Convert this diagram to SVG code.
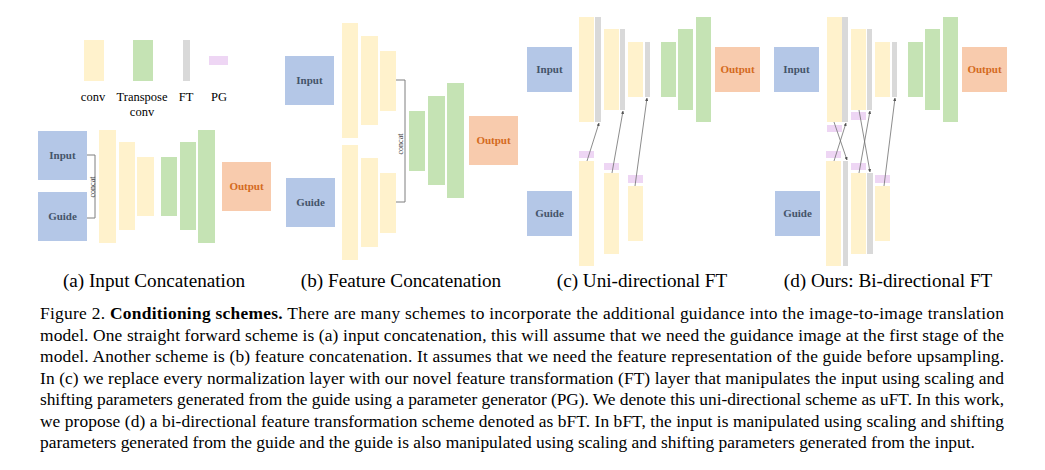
<svg xmlns="http://www.w3.org/2000/svg" width="1045" height="470" viewBox="0 0 1045 470">
<defs>
<style>
.cv{fill:#FFF2CC}
.tc{fill:#C5E3B4}
.ft{fill:#D9D9D9}
.pg{fill:#EED6F4}
.in{fill:#B4C7E7}
.out{fill:#F8CBAD}
.lbl{font-family:"Liberation Serif","Times New Roman",serif;font-size:11px;font-weight:bold;fill:#44546A;text-anchor:middle}
.olbl{font-family:"Liberation Serif","Times New Roman",serif;font-size:11px;font-weight:bold;fill:#D46A1E;text-anchor:middle}
.leg{font-family:"Liberation Serif","Times New Roman",serif;font-size:12.5px;fill:#000;text-anchor:middle}
.cc{font-family:"Liberation Serif","Times New Roman",serif;font-size:8px;fill:#404040;text-anchor:middle}
.sub{font-family:"Liberation Serif","Times New Roman",serif;font-size:19.2px;fill:#000;text-anchor:middle}
.cap{font-family:"Liberation Serif","Times New Roman",serif;font-size:17.4px;fill:#000}
.br{fill:none;stroke:#7F7F7F;stroke-width:1}
.ar{fill:none;stroke:#6E6E6E;stroke-width:0.8;marker-end:url(#ah)}
</style>
<marker id="ah" viewBox="0 0 6 6" refX="5.5" refY="3" markerWidth="4" markerHeight="4" orient="auto" markerUnits="strokeWidth">
<path d="M0,0 L6,3 L0,6 z" fill="#505050"/>
</marker>
</defs>
<rect width="1045" height="470" fill="#fff"/>

<!-- Legend -->
<g id="legend">
<rect class="cv" x="84" y="40" width="20" height="41"/>
<rect class="tc" x="133" y="40" width="20" height="41"/>
<rect class="ft" x="183" y="40" width="7" height="41"/>
<rect class="pg" x="209" y="56" width="19" height="9"/>
<text class="leg" x="93" y="101">conv</text>
<text class="leg" x="142" y="101">Transpose</text>
<text class="leg" x="142" y="116">conv</text>
<text class="leg" x="186" y="101">FT</text>
<text class="leg" x="219" y="101">PG</text>
</g>

<!-- (a) Input Concatenation -->
<g id="a-input"><rect class="in" x="38" y="131" width="49" height="49"/><text class="lbl" x="62.5" y="159">Input</text></g>
<g id="a-guide"><rect class="in" x="38" y="192" width="49" height="49"/><text class="lbl" x="62.5" y="220">Guide</text></g>
<g id="a-enc1"><rect class="cv" x="99" y="130" width="17" height="113"/></g>
<g id="a-enc2"><rect class="cv" x="119" y="142" width="16" height="88"/></g>
<g id="a-enc3"><rect class="cv" x="137" y="157" width="17" height="59"/></g>
<g id="a-dec1"><rect class="tc" x="161" y="157" width="16" height="59"/></g>
<g id="a-dec2"><rect class="tc" x="180" y="142" width="16" height="88"/></g>
<g id="a-dec3"><rect class="tc" x="198" y="130" width="17" height="113"/></g>
<g id="a-output"><rect class="out" x="222" y="162" width="49" height="49"/><text class="olbl" x="246.5" y="190">Output</text></g>

<!-- (b) Feature Concatenation -->
<g id="b-input"><rect class="in" x="285" y="56" width="49" height="49"/><text class="lbl" x="309.5" y="84">Input</text></g>
<g id="b-guide"><rect class="in" x="286" y="178" width="49" height="49"/><text class="lbl" x="310.5" y="206">Guide</text></g>
<g id="b-enc1t"><rect class="cv" x="342" y="23" width="16" height="115"/></g>
<g id="b-enc2t"><rect class="cv" x="361" y="36" width="17" height="89"/></g>
<g id="b-enc3t"><rect class="cv" x="380" y="51" width="16" height="60"/></g>
<g id="b-enc1b"><rect class="cv" x="342" y="145" width="16" height="115"/></g>
<g id="b-enc2b"><rect class="cv" x="361" y="158" width="17" height="89"/></g>
<g id="b-enc3b"><rect class="cv" x="380" y="173" width="16" height="60"/></g>
<g id="b-dec1"><rect class="tc" x="409" y="111" width="16" height="60"/></g>
<g id="b-dec2"><rect class="tc" x="428" y="96" width="17" height="89"/></g>
<g id="b-dec3"><rect class="tc" x="447" y="83" width="17" height="115"/></g>
<g id="b-output"><rect class="out" x="469" y="116" width="49" height="49"/><text class="olbl" x="493.5" y="144">Output</text></g>

<!-- (c) Uni-directional FT -->
<g id="c-input"><rect class="in" x="527" y="47" width="45" height="45"/><text class="lbl" x="549.5" y="73">Input</text></g>
<g id="c-guide"><rect class="in" x="527" y="191" width="45" height="45"/><text class="lbl" x="549.5" y="217">Guide</text></g>
<g id="c-enc1t"><rect class="cv" x="579" y="17" width="15" height="105"/><rect class="ft" x="595" y="17" width="6" height="105"/></g>
<g id="c-enc2t"><rect class="cv" x="604" y="29" width="15" height="81"/><rect class="ft" x="620" y="29" width="5" height="81"/></g>
<g id="c-enc3t"><rect class="cv" x="628" y="42" width="15" height="55"/><rect class="ft" x="645" y="42" width="5" height="55"/></g>
<g id="c-dec1"><rect class="tc" x="661" y="42" width="15" height="55"/></g>
<g id="c-dec2"><rect class="tc" x="678" y="29" width="15" height="81"/></g>
<g id="c-dec3"><rect class="tc" x="696" y="17" width="15" height="105"/></g>
<g id="c-output"><rect class="out" x="715" y="47" width="45" height="45"/><text class="olbl" x="737.5" y="73">Output</text></g>
<g id="c-enc1b"><rect class="pg" x="579" y="151" width="15" height="7"/><rect class="cv" x="579" y="161" width="15" height="105"/></g>
<g id="c-enc2b"><rect class="pg" x="604" y="163" width="15" height="7"/><rect class="cv" x="604" y="173" width="15" height="81"/></g>
<g id="c-enc3b"><rect class="pg" x="628" y="175" width="15" height="8"/><rect class="cv" x="628" y="186" width="15" height="55"/></g>

<!-- (d) Bi-directional FT -->
<g id="d-input"><rect class="in" x="774" y="47" width="45" height="45"/><text class="lbl" x="796.5" y="73">Input</text></g>
<g id="d-guide"><rect class="in" x="775" y="191" width="45" height="45"/><text class="lbl" x="797.5" y="217">Guide</text></g>
<g id="d-enc1t"><rect class="cv" x="827" y="17" width="15" height="105"/><rect class="ft" x="842" y="17" width="6" height="105"/><rect class="pg" x="827" y="125" width="15" height="7"/></g>
<g id="d-enc2t"><rect class="cv" x="851" y="29" width="15" height="81"/><rect class="ft" x="867" y="29" width="5" height="81"/><rect class="pg" x="851" y="112" width="15" height="8"/></g>
<g id="d-enc3t"><rect class="cv" x="875" y="42" width="15" height="55"/><rect class="ft" x="892" y="42" width="5" height="55"/></g>
<g id="d-dec1"><rect class="tc" x="908" y="42" width="15" height="55"/></g>
<g id="d-dec2"><rect class="tc" x="925" y="29" width="15" height="81"/></g>
<g id="d-dec3"><rect class="tc" x="943" y="17" width="15" height="105"/></g>
<g id="d-output"><rect class="out" x="962" y="47" width="45" height="45"/><text class="olbl" x="984.5" y="73">Output</text></g>
<g id="d-enc1b"><rect class="pg" x="826" y="151" width="15" height="7"/><rect class="cv" x="826" y="161" width="15" height="105"/><rect class="ft" x="843" y="161" width="5" height="105"/></g>
<g id="d-enc2b"><rect class="pg" x="851" y="163" width="15" height="7"/><rect class="cv" x="851" y="173" width="15" height="81"/><rect class="ft" x="867" y="173" width="6" height="81"/></g>
<g id="d-enc3b"><rect class="pg" x="875" y="175" width="15" height="8"/><rect class="cv" x="875" y="186" width="15" height="55"/></g>

<!-- Connectors -->
<g id="connectors">
<path class="br" d="M87,155 H95 V218 H87"/>
<text class="cc" transform="translate(92.5,187) rotate(-90)" y="2.5">concat</text>
<path class="br" d="M396,80 H405 V202 H396"/>
<text class="cc" transform="translate(400,144) rotate(-90)" y="2.5">concat</text>
<line class="ar" x1="587" y1="161" x2="599" y2="123"/>
<line class="ar" x1="612" y1="173" x2="623" y2="111"/>
<line class="ar" x1="635" y1="186" x2="647" y2="98"/>
<line class="ar" x1="834" y1="161" x2="846" y2="123"/>
<line class="ar" x1="859" y1="173" x2="870" y2="111"/>
<line class="ar" x1="884" y1="186" x2="895" y2="98"/>
<line class="ar" x1="834" y1="122" x2="847" y2="160"/>
<line class="ar" x1="859" y1="110" x2="870" y2="172"/>
</g>

<!-- Sub-captions -->
<text class="sub" x="154" y="287">(a) Input Concatenation</text>
<text class="sub" x="401" y="287">(b) Feature Concatenation</text>
<text class="sub" x="642" y="287">(c) Uni-directional FT</text>
<text class="sub" x="888" y="287">(d) Ours: Bi-directional FT</text>

<!-- Figure caption -->
<g class="cap">
<text x="40" y="319" textLength="964" lengthAdjust="spacing">Figure 2. <tspan font-weight="bold">Conditioning schemes.</tspan>  There are many schemes to incorporate the additional guidance into the image-to-image translation</text>
<text x="40" y="340.5" textLength="964" lengthAdjust="spacing">model. One straight forward scheme is (a) input concatenation, this will assume that we need the guidance image at the first stage of the</text>
<text x="40" y="362" textLength="964" lengthAdjust="spacing">model.  Another scheme is (b) feature concatenation.  It assumes that we need the feature representation of the guide before upsampling.</text>
<text x="40" y="383.5" textLength="964" lengthAdjust="spacing">In (c) we replace every normalization layer with our novel feature transformation (FT) layer that manipulates the input using scaling and</text>
<text x="40" y="405" textLength="964" lengthAdjust="spacing">shifting parameters generated from the guide using a parameter generator (PG). We denote this uni-directional scheme as uFT. In this work,</text>
<text x="40" y="426.5" textLength="964" lengthAdjust="spacing">we propose (d) a bi-directional feature transformation scheme denoted as bFT. In bFT, the input is manipulated using scaling and shifting</text>
<text x="40" y="448">parameters generated from the guide and the guide is also manipulated using scaling and shifting parameters generated from the input.</text>
</g>
</svg>
